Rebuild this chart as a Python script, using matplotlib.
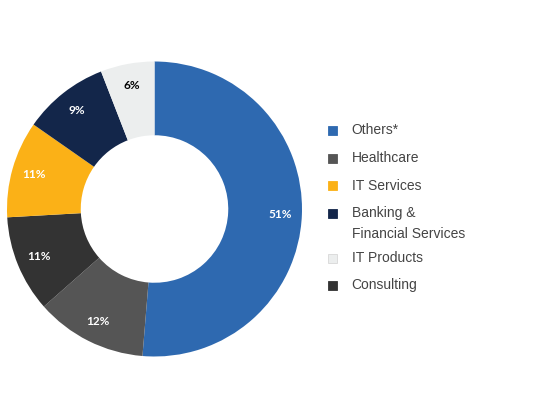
import numpy as np
import matplotlib.pyplot as plt
from matplotlib.patches import Rectangle

categories = ['Others*', 'Healthcare', 'Consulting', 'IT Services',
              'Banking &\nFinancial Services', 'IT Products']
shares = [51.3, 12.2, 10.6, 10.6, 9.4, 5.9]
colors = ['#2E69B0', '#555555', '#333333', '#FBB117', '#13264A', '#ECEEEE']
label_colors = ['white', 'white', 'white', 'white', 'white', 'black']

# legend order differs from slice order
legend_order = ['Others*', 'Healthcare', 'IT Services',
                'Banking &\nFinancial Services', 'IT Products', 'Consulting']

W, H = 535, 418
fig = plt.figure(figsize=(W / 100, H / 100), dpi=100)
ax = fig.add_axes([0, 0, 1, 1])

cx, cy, R = 154.5, H - 209, 147.5
wedges, _ = ax.pie(shares, colors=colors, startangle=90, counterclock=False,
                   radius=R, center=(cx, cy),
                   wedgeprops=dict(width=R * 0.5, linewidth=0))

start = 90.0
for val, lc in zip(shares, label_colors):
    mid = np.deg2rad(start - val * 3.6 / 2)
    start -= val * 3.6
    r = R * 0.85
    ax.text(cx + r * np.cos(mid), cy + r * np.sin(mid), f'{val:.0f}%',
            ha='center', va='center', color=lc, fontsize=8.5,
            fontfamily='Lato', fontweight='bold')

# legend drawn by hand
y = 130.5
for name in legend_order:
    col = colors[categories.index(name)]
    ax.add_patch(Rectangle((327.5, H - y - 4.5), 9, 9, facecolor=col,
                           edgecolor='#d8d8d8' if col == '#ECEEEE' else col,
                           linewidth=0.6))
    lines = name.split('\n')
    for k, ln in enumerate(lines):
        ax.text(351.5, H - y - 21 * k, ln, ha='left', va='center',
                fontsize=10, color='#444444', fontfamily='Liberation Sans')
    y += 27.5 + 17.5 * (len(lines) - 1)

ax.set_xlim(0, W)
ax.set_ylim(0, H)
ax.set_aspect('equal')
ax.axis('off')

plt.savefig('out.png', dpi=100)
